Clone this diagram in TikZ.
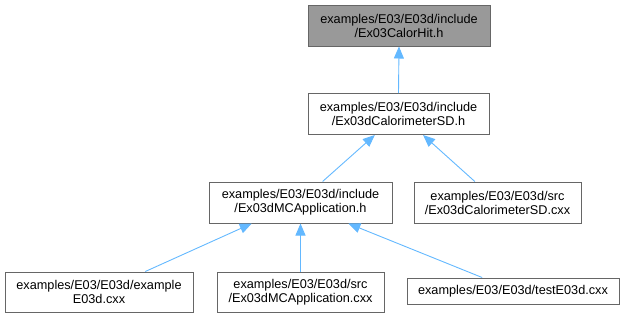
\documentclass[tikz,border=0pt]{standalone}
\usepackage{fontspec}
\setmainfont{Liberation Sans}
\usetikzlibrary{arrows.meta,calc}
\definecolor{edgeblue}{HTML}{63B8FF}
\definecolor{boxborder}{HTML}{666666}
\definecolor{boxgray}{HTML}{999999}
\begin{document}
\begin{tikzpicture}[x=1pt,y=-1pt,
  filebox/.style={draw=boxborder,line width=1pt,fill=white,rectangle,inner sep=0pt,
    align=center,font=\fontsize{12.7}{14}\selectfont},
  edge/.style={draw=edgeblue,line width=0.9pt,-{Triangle[length=12pt,width=10pt]}}]
\useasboundingbox (0,0) rectangle (625,317);
\node[filebox,fill=boxgray,minimum width=182pt,minimum height=41pt] (n1) at (399,25.5)
  {examples/E03/E03d/include\\/Ex03CalorHit.h};
\node[filebox,minimum width=181pt,minimum height=41pt] (n2) at (398.5,114)
  {examples/E03/E03d/include\\/Ex03dCalorimeterSD.h};
\node[filebox,minimum width=183pt,minimum height=41pt] (n3) at (300.5,202.5)
  {examples/E03/E03d/include\\/Ex03dMCApplication.h};
\node[filebox,minimum width=167pt,minimum height=41pt] (n4) at (497.5,202.5)
  {examples/E03/E03d/src\\/Ex03dCalorimeterSD.cxx};
\node[filebox,minimum width=188pt,minimum height=40pt] (n5) at (99,292)
  {examples/E03/E03d/example\\E03d.cxx};
\node[filebox,minimum width=167pt,minimum height=40pt] (n6) at (300.5,292)
  {examples/E03/E03d/src\\/Ex03dMCApplication.cxx};
\node[filebox,minimum width=212pt,minimum height=26pt] (n7) at (513,291)
  {examples/E03/E03d/testE03d.cxx};
\draw[edge] (n2.north) -- (n1.south);
\draw[edge] ($(n3.north west)!0.62!(n3.north east)$) -- ($(n2.south west)!0.37!(n2.south east)$);
\draw[edge] ($(n4.north west)!0.365!(n4.north east)$) -- ($(n2.south west)!0.635!(n2.south east)$);
\draw[edge] ($(n5.north west)!0.745!(n5.north east)$) -- ($(n3.south west)!0.235!(n3.south east)$);
\draw[edge] (n6.north) -- (n3.south);
\draw[edge] ($(n7.north west)!0.355!(n7.north east)$) -- ($(n3.south west)!0.76!(n3.south east)$);
\end{tikzpicture}
\end{document}
